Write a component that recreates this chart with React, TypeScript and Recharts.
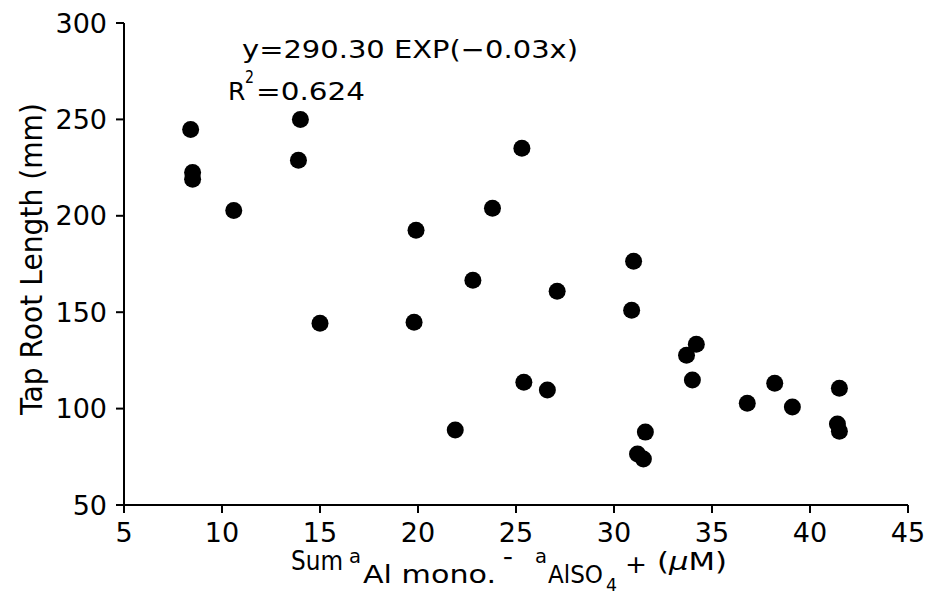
import React from "react";
import { ScatterChart, Scatter, XAxis, YAxis, Customized } from "recharts";

// Sum of Al activities (uM) vs tap root length (mm)
const sumAl = [
  8.4, 8.5, 8.5, 10.6, 14.0, 13.9, 15.0, 19.9, 19.8, 21.9,
  22.8, 23.8, 25.3, 25.4, 26.6, 27.1, 31.0, 30.9, 31.6, 31.2,
  31.5, 33.7, 34.2, 34.0, 36.8, 38.2, 39.1, 41.5, 41.4, 41.5,
];
const tapRoot = [
  244.8, 222.5, 218.9, 202.8, 250, 228.8, 144.3, 192.5, 144.8, 88.9,
  166.6, 203.9, 235, 113.7, 109.6, 160.9, 176.4, 151, 87.8, 76.4,
  73.8, 127.7, 133.4, 114.8, 102.8, 113.2, 100.8, 110.6, 92, 88.3,
];
const xTicks = [5, 10, 15, 20, 25, 30, 35, 40, 45];
const yTicks = [50, 100, 150, 200, 250, 300];
const equation = "y=290.30 EXP(\u22120.03x)";
const rSquared = "0.624";

const points = sumAl.map((x, i) => ({ x, y: tapRoot[i] }));

const FONT = "'DejaVu Sans', sans-serif";

const Dot = (props: any) => (
  <circle cx={props.cx} cy={props.cy} r={8.5} fill="#000" />
);

function XLabel({ viewBox }: any) {
  const x0 = viewBox.x; // left edge of plot
  const base = viewBox.y + 65; // main baseline
  const t = (x: number, dy: number, s: React.ReactNode, len?: number, size = 25) => (
    <text
      x={x0 + x}
      y={base + dy}
      fontFamily={FONT}
      fontSize={size}
      fill="#000"
      textLength={len}
      lengthAdjust="spacingAndGlyphs"
    >
      {s}
    </text>
  );
  return (
    <g>
      {t(167, 0, "Sum", 52, 26)}
      {t(225, -7, "a", 12, 19)}
      {t(239, 13, "Al mono.", 133)}
      {t(379, -4, "\u2212", 10)}
      {t(411, -7, "a", 12, 19)}
      {t(424, 13, "AlSO", 55)}
      {t(482, 21, "4", 11, 18)}
      {t(501, 3, "+", 22)}
      {t(533, 0, <>(<tspan fontStyle="italic">{"\u03bc"}</tspan>M)</>, 70)}
    </g>
  );
}

function YLabel() {
  return (
    <text
      x={42}
      y={259}
      transform="rotate(-90 42 259)"
      textAnchor="middle"
      fontFamily={FONT}
      fontSize={30}
      fill="#000"
      textLength={312}
      lengthAdjust="spacingAndGlyphs"
    >
      Tap Root Length (mm)
    </text>
  );
}

function Annotation() {
  return (
    <g fontFamily={FONT} fill="#000">
      <text x={242} y={58} fontSize={25} textLength={336} lengthAdjust="spacingAndGlyphs">
        {equation}
      </text>
      <text x={228} y={100} fontSize={25}>R</text>
      <text x={245} y={83} fontSize={18} textLength={9} lengthAdjust="spacingAndGlyphs">2</text>
      <text x={256} y={100} fontSize={25} textLength={109} lengthAdjust="spacingAndGlyphs">
        {"=" + rSquared}
      </text>
    </g>
  );
}

export default function App() {
  const tickStyle = { fill: "#000", fontSize: 27, fontFamily: FONT };
  return (
    <div style={{ position: "absolute", left: 0, top: 0, width: 938, height: 596, background: "#fff" }}>
      <ScatterChart width={938} height={596} margin={{ top: 23, right: 30, bottom: 31, left: 0 }}>
        <XAxis
          type="number"
          dataKey="x"
          domain={[5, 45]}
          ticks={xTicks}
          interval={0}
          height={60}
          tick={tickStyle}
          tickSize={8}
          tickMargin={10}
          axisLine={{ stroke: "#000", strokeWidth: 2 }}
          tickLine={{ stroke: "#000", strokeWidth: 2 }}
          label={{ content: (p: any) => <XLabel {...p} /> }}
        />
        <YAxis
          type="number"
          dataKey="y"
          domain={[50, 300]}
          ticks={yTicks}
          interval={0}
          width={124}
          tick={tickStyle}
          tickSize={8}
          tickMargin={9}
          axisLine={{ stroke: "#000", strokeWidth: 2 }}
          tickLine={{ stroke: "#000", strokeWidth: 2 }}
          label={{ content: () => <YLabel /> }}
        />
        <Scatter data={points} fill="#000" shape={Dot} isAnimationActive={false} />
        <Customized component={Annotation} />
      </ScatterChart>
    </div>
  );
}
